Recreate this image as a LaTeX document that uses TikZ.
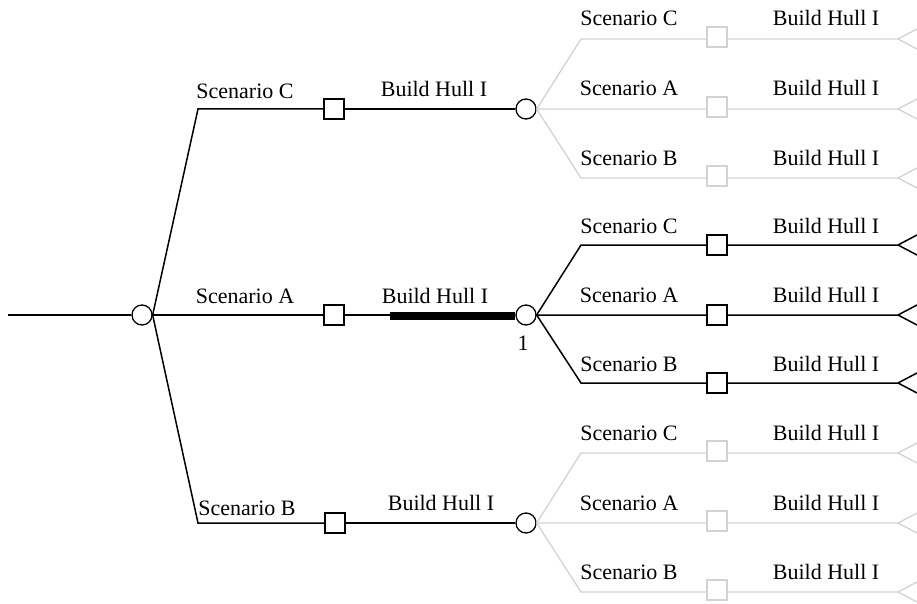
\documentclass[tikz,border=0pt]{standalone}
\usepackage{fontspec}
\setmainfont{Liberation Serif}
\begin{document}
\begin{tikzpicture}[x=1pt,y=-1pt,
 chance/.style={draw,circle,minimum size=20pt,inner sep=0pt,line width=1.3pt},
 decide/.style={draw,rectangle,minimum size=20pt,inner sep=0pt,line width=1.3pt},
 branch/.style={line width=1.5pt},
 faded/.style={draw=gray!35,line width=1.3pt},
 lbl/.style={anchor=base,inner sep=0pt,font=\fontsize{22}{25}\selectfont}]
 \useasboundingbox (0,0) rectangle (917,604);
 \clip (0,0) rectangle (917,604);
 % first chance node
 \coordinate (start) at (8,315);
 \node[chance] (c0) at (142,315) {};
 \draw[branch] (start) -- (c0);
 \coordinate (e1) at (198,109);
 \coordinate (e3) at (198,523);
 \node[decide] (d1) at (334,109) {};
 \node[decide] (d2) at (334,315) {};
 \node[decide] (d3) at (335,523) {};
 \draw[branch] (c0.east) -- (e1) -- (d1);
 \draw[branch] (c0) -- (d2);
 \draw[branch] (c0.east) -- (e3) -- (d3);
 \node[lbl] (l1) at (245,99) {Scenario C};
 \node[lbl] (l2) at (245,303) {Scenario A};
 \node[lbl] (l3) at (247,515) {Scenario B};
 % build decisions
 \node[chance] (c1) at (526,109) {};
 \node[chance] (c2) at (526,315) {};
 \node[chance] (c3) at (526,523) {};
 \coordinate (h) at (390,316);
 \draw[branch] (d1) -- (c1);
 \draw[branch] (d2) -- (c2);
 \draw[line width=8pt] (h) -- (c2.west |- h);
 \draw[branch] (d3) -- (c3);
 \node[lbl] (b1) at (434,97) {Build Hull I};
 \node[lbl] (b2) at (435,303) {Build Hull I};
 \node[lbl] (b3) at (441,510) {Build Hull I};
 \node[lbl] (one) at (523,350) {1};
 % upper block (faded)
 \coordinate (e1c) at (581,39);
 \coordinate (e1b) at (581,178);
 \node[decide,faded] (d1c) at (717,37) {};
 \node[decide,faded] (d1a) at (717,107) {};
 \node[decide,faded] (d1b) at (717,176) {};
 \coordinate (t1c) at (898,39);
 \coordinate (t1a) at (898,109);
 \coordinate (t1b) at (898,178);
 \draw[faded] (c1.east) -- (e1c) -- (d1c.west |- e1c) (d1c.east |- e1c) -- (t1c) -- ++(19,-10) (t1c) -- ++(19,10);
 \draw[faded] (c1) -- (d1a.west |- t1a) (d1a.east |- t1a) -- (t1a) -- ++(19,-10) (t1a) -- ++(19,10);
 \draw[faded] (c1.east) -- (e1b) -- (d1b.west |- e1b) (d1b.east |- e1b) -- (t1b) -- ++(19,-10) (t1b) -- ++(19,10);
 \node[lbl] at (629,26) {Scenario C};
 \node[lbl] at (826,26) {Build Hull I};
 \node[lbl] at (629,96) {Scenario A};
 \node[lbl] at (826,96) {Build Hull I};
 \node[lbl] at (629,165) {Scenario B};
 \node[lbl] at (826,165) {Build Hull I};
 % middle block
 \coordinate (e2c) at (581,245);
 \coordinate (e2b) at (581,383);
 \node[decide] (d2c) at (717,245) {};
 \node[decide] (d2a) at (717,315) {};
 \node[decide] (d2b) at (717,383) {};
 \coordinate (t2c) at (898,245);
 \coordinate (t2a) at (898,315);
 \coordinate (t2b) at (898,383);
 \draw[branch] (c2.east) -- (e2c) -- (d2c) -- (t2c) -- ++(19,-10) (t2c) -- ++(19,10);
 \draw[branch] (c2) -- (d2a) -- (t2a) -- ++(19,-10) (t2a) -- ++(19,10);
 \draw[branch] (c2.east) -- (e2b) -- (d2b) -- (t2b) -- ++(19,-10) (t2b) -- ++(19,10);
 \node[lbl] at (629,233) {Scenario C};
 \node[lbl] at (826,233) {Build Hull I};
 \node[lbl] at (629,302) {Scenario A};
 \node[lbl] at (826,302) {Build Hull I};
 \node[lbl] at (629,371) {Scenario B};
 \node[lbl] at (826,371) {Build Hull I};
 % lower block (faded)
 \coordinate (e3c) at (581,453);
 \coordinate (e3b) at (581,592);
 \node[decide,faded] (d3c) at (717,451) {};
 \node[decide,faded] (d3a) at (717,521) {};
 \node[decide,faded] (d3b) at (717,590) {};
 \coordinate (t3c) at (898,453);
 \coordinate (t3a) at (898,523);
 \coordinate (t3b) at (898,592);
 \draw[faded] (c3.east) -- (e3c) -- (d3c.west |- e3c) (d3c.east |- e3c) -- (t3c) -- ++(19,-10) (t3c) -- ++(19,10);
 \draw[faded] (c3) -- (d3a.west |- t3a) (d3a.east |- t3a) -- (t3a) -- ++(19,-10) (t3a) -- ++(19,10);
 \draw[faded] (c3.east) -- (e3b) -- (d3b.west |- e3b) (d3b.east |- e3b) -- (t3b) -- ++(19,-10) (t3b) -- ++(19,10);
 \node[lbl] at (629,440) {Scenario C};
 \node[lbl] at (826,440) {Build Hull I};
 \node[lbl] at (629,510) {Scenario A};
 \node[lbl] at (826,510) {Build Hull I};
 \node[lbl] at (629,579) {Scenario B};
 \node[lbl] at (826,579) {Build Hull I};
\end{tikzpicture}
\end{document}
